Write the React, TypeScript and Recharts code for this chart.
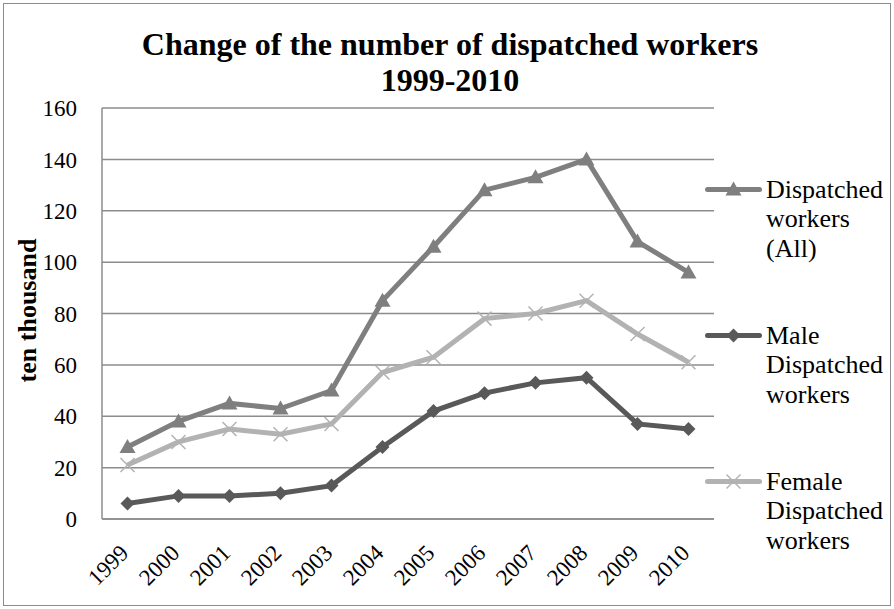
import { LineChart, Line, XAxis, YAxis, CartesianGrid, Label } from "recharts";

const years = ["1999", "2000", "2001", "2002", "2003", "2004", "2005", "2006", "2007", "2008", "2009", "2010"];
const allWorkers = [28, 38, 45, 43, 50, 85, 106, 128, 133, 140, 108, 96];
const maleWorkers = [6, 9, 9, 10, 13, 28, 42, 49, 53, 55, 37, 35];
const femaleWorkers = [21, 30, 35, 33, 37, 57, 63, 78, 80, 85, 72, 61];
const yTicks = [0, 20, 40, 60, 80, 100, 120, 140, 160];

const data = years.map((year, i) => ({
  year,
  all: allWorkers[i],
  male: maleWorkers[i],
  female: femaleWorkers[i],
}));

const FONT = '"Liberation Serif", "Times New Roman", serif';
const C_ALL = "#7f7f7f";
const C_MALE = "#595959";
const C_FEMALE = "#b2b2b2";
const GRID = "#8c8c8c";

const legendItems = [
  { key: "all", color: C_ALL, marker: "triangle", lines: ["Dispatched", "workers", "(All)"] },
  { key: "male", color: C_MALE, marker: "diamond", lines: ["Male", "Dispatched", "workers"] },
  { key: "female", color: C_FEMALE, marker: "cross", lines: ["Female", "Dispatched", "workers"] },
];

function Marker({ cx, cy, kind, color }: { cx: number; cy: number; kind: string; color: string }) {
  if (kind === "triangle") {
    const s = 8;
    return <polygon points={`${cx},${cy - s} ${cx + s},${cy + s * 0.75} ${cx - s},${cy + s * 0.75}`} fill={color} />;
  }
  if (kind === "diamond") {
    const s = 7;
    return <polygon points={`${cx},${cy - s} ${cx + s},${cy} ${cx},${cy + s} ${cx - s},${cy}`} fill={color} />;
  }
  const s = 7;
  return (
    <g stroke={color} strokeWidth={1.5}>
      <line x1={cx - s} y1={cy - s} x2={cx + s} y2={cy + s} />
      <line x1={cx - s} y1={cy + s} x2={cx + s} y2={cy - s} />
    </g>
  );
}

const dotFor = (kind: string, color: string) => (props: any) => {
  const { cx, cy, index } = props;
  if (cx == null || cy == null) return <g key={index} />;
  return <Marker key={index} cx={cx} cy={cy} kind={kind} color={color} />;
};

// year labels slanted 45 degrees, ending just under their point
function XTick(props: any) {
  const { x, payload } = props;
  const ax = x - 3;
  const ay = 549;
  return (
    <text
      x={ax}
      y={ay}
      transform={`rotate(-45 ${ax} ${ay})`}
      textAnchor="end"
      dominantBaseline="central"
      fontFamily={FONT}
      fontSize={23}
      fill="#000"
    >
      {payload.value}
    </text>
  );
}

function YTitle(props: any) {
  const { viewBox } = props;
  const cx = 27;
  const cy = viewBox.y + viewBox.height / 2 - 3;
  return (
    <text
      x={cx}
      y={cy}
      transform={`rotate(-90 ${cx} ${cy})`}
      textAnchor="middle"
      dominantBaseline="central"
      fontFamily={FONT}
      fontSize={26}
      fontWeight="bold"
      fill="#000"
    >
      ten thousand
    </text>
  );
}

function LegendBox() {
  return (
    <div
      style={{
        position: "absolute",
        left: 705,
        top: 174.5,
        width: 189,
        fontFamily: FONT,
        fontSize: 26,
        lineHeight: "29.5px",
        color: "#000",
        whiteSpace: "nowrap",
      }}
    >
      {legendItems.map((item, i) => (
        <div key={item.key} style={{ display: "flex", alignItems: "flex-start", marginBottom: i < 2 ? 57.5 : 0 }}>
          <svg width={61} height={30} style={{ flex: "none" }}>
            <line x1={2.5} y1={14.5} x2={54.5} y2={14.5} stroke={item.color} strokeWidth={5} strokeLinecap="round" />
            <Marker cx={28.5} cy={14.5} kind={item.marker} color={item.color} />
          </svg>
          <div>
            {item.lines.map((t) => (
              <div key={t}>{t}</div>
            ))}
          </div>
        </div>
      ))}
    </div>
  );
}

export default function App() {
  return (
    <div
      style={{
        position: "absolute",
        left: 0,
        top: 0,
        width: 894,
        height: 609,
        background: "#fff",
      }}
    >
      <div
        style={{
          position: "absolute",
          left: 3,
          top: 3,
          width: 888,
          height: 603,
          border: "1.5px solid #8c8c8c",
          boxSizing: "border-box",
        }}
      />
      <div
        style={{
          position: "absolute",
          left: 0,
          top: 26,
          width: 900,
          textAlign: "center",
          fontFamily: FONT,
          fontWeight: "bold",
          fontSize: 32,
          lineHeight: "36px",
          color: "#000",
        }}
      >
        <div>Change of the number of dispatched workers</div>
        <div>1999-2010</div>
      </div>
      <LineChart width={894} height={609} data={data} margin={{ top: 108, right: 180, left: 0, bottom: 0 }}>
        <CartesianGrid vertical={false} stroke={GRID} strokeWidth={1.5} />
        <XAxis
          dataKey="year"
          height={90}
          padding={{ left: 25.5, right: 25.5 }}
          axisLine={{ stroke: GRID, strokeWidth: 1.5 }}
          tickLine={false}
          interval={0}
          tick={<XTick />}
        />
        <YAxis
          width={102}
          domain={[0, 160]}
          ticks={yTicks}
          axisLine={{ stroke: GRID, strokeWidth: 1.5 }}
          tickLine={false}
          tickSize={0}
          tickMargin={25}
          tick={{ fontFamily: FONT, fontSize: 23, fill: "#000" }}
        >
          <Label content={<YTitle />} />
        </YAxis>
        <Line
          dataKey="all"
          stroke={C_ALL}
          strokeWidth={5}
          dot={dotFor("triangle", C_ALL)}
          isAnimationActive={false}
        />
        <Line
          dataKey="male"
          stroke={C_MALE}
          strokeWidth={5}
          dot={dotFor("diamond", C_MALE)}
          isAnimationActive={false}
        />
        <Line
          dataKey="female"
          stroke={C_FEMALE}
          strokeWidth={5}
          dot={dotFor("cross", C_FEMALE)}
          isAnimationActive={false}
        />
      </LineChart>
      <LegendBox />
    </div>
  );
}
